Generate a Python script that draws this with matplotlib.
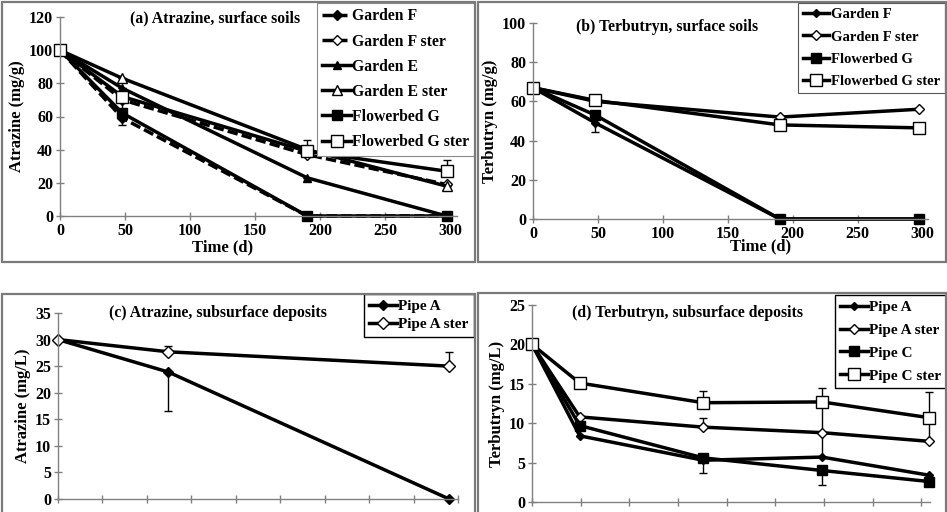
import matplotlib
matplotlib.use("Agg")
import matplotlib.pyplot as plt
from matplotlib.patches import Rectangle

plt.rcParams['font.family'] = ['Liberation Serif', 'DejaVu Serif']
plt.rcParams['font.weight'] = 'bold'

# -----------------------------
# DATA
# -----------------------------
# (a) Atrazine, surface soils
t_surf = [0, 48, 190, 297]
atr_names = ["Garden F", "Garden F ster", "Garden E", "Garden E ster",
             "Flowerbed G", "Flowerbed G ster"]
atr_vals = [
    [100, 59, 0, 0],
    [100, 70, 37, 19],
    [100, 77, 23, 0],
    [100, 83, 40, 18],
    [100, 62, 0, 0],
    [100, 72, 39, 27],
]
# error bars (lower, upper)
atr_lo = [
    [0, 4, 0, 0],
    [0, 0, 0, 0],
    [0, 0, 0, 0],
    [0, 0, 0, 0],
    [0, 0, 0, 0],
    [0, 10, 0, 0],
]
atr_hi = [
    [0, 0, 0, 0],
    [0, 0, 0, 0],
    [0, 0, 0, 0],
    [0, 0, 0, 0],
    [0, 0, 0, 0],
    [0, 0, 7, 6.5],
]

# (b) Terbutryn, surface soils
ter_names = ["Garden F", "Garden F ster", "Flowerbed G", "Flowerbed G ster"]
ter_vals = [
    [67, 49, 0, 0],
    [67, 60, 52, 56],
    [67, 53, 0, 0],
    [67, 60.5, 48, 46.5],
]
ter_lo = [
    [0, 4.5, 0, 0],
    [0, 0, 0, 0],
    [0, 0, 0, 0],
    [0, 0, 0, 0],
]
ter_hi = [
    [0, 0, 0, 0],
    [0, 0, 0, 0],
    [0, 0, 0, 0],
    [0, 0, 0, 0],
]

# (c) Atrazine, subsurface deposits
t_pipe_a = [0, 124, 440]
atr_pipe_names = ["Pipe A", "Pipe A ster"]
atr_pipe_vals = [
    [30, 23.9, 0],
    [30, 27.7, 25],
]
atr_pipe_lo = [
    [0, 7.3, 0],
    [0, 0, 0],
]
atr_pipe_hi = [
    [0, 0, 0],
    [0, 1.1, 2.7],
]

# (d) Terbutryn, subsurface deposits
t_pipe_d = [0, 49, 176, 298, 408]
ter_pipe_names = ["Pipe A", "Pipe A ster", "Pipe C", "Pipe C ster"]
ter_pipe_vals = [
    [20, 8.4, 5.3, 5.7, 3.4],
    [20, 10.8, 9.5, 8.8, 7.7],
    [20, 9.7, 5.6, 4.0, 2.6],
    [20, 15.1, 12.6, 12.7, 10.7],
]
ter_pipe_lo = [
    [0, 0, 0, 0, 0],
    [0, 0, 0, 0, 0],
    [0, 0, 1.9, 1.8, 0],
    [0, 0, 0, 0, 0],
]
ter_pipe_hi = [
    [0, 0, 0, 3.1, 0],
    [0, 0, 1.1, 3.9, 3.0],
    [0, 0, 0, 0, 0],
    [0, 0, 1.5, 1.8, 3.2],
]

# -----------------------------
# STYLES
# -----------------------------
W, H = 947, 512
FS_TICK = 11.5
FS_LAB = 12
FS_TITLE = 11.3

style_a = [
    dict(marker='D', mfc='black', ls=(0, (3, 1.2)), ms=5),
    dict(marker='D', mfc='white', ls=(0, (3, 1.2)), ms=5),
    dict(marker='^', mfc='black', ls='-', ms=6),
    dict(marker='^', mfc='white', ls='-', ms=7),
    dict(marker='s', mfc='black', ls='-', ms=7),
    dict(marker='s', mfc='white', ls='-', ms=8),
]
style_b = [
    dict(marker='D', mfc='black', ls='-', ms=4),
    dict(marker='D', mfc='white', ls='-', ms=5),
    dict(marker='s', mfc='black', ls='-', ms=7),
    dict(marker='s', mfc='white', ls='-', ms=8),
]
style_c = [
    dict(marker='D', mfc='black', ls='-', ms=5),
    dict(marker='D', mfc='white', ls='-', ms=6),
]
style_d = style_b


def px_axes(fig, left, right, top, bottom):
    return fig.add_axes([left / W, 1 - bottom / H, (right - left) / W, (bottom - top) / H])


def frame(fig, left, top, right, bottom):
    fig.patches.append(Rectangle((left / W, 1 - bottom / H), (right - left) / W,
                                 (bottom - top) / H, transform=fig.transFigure,
                                 fill=False, edgecolor='#7a7a7a', lw=1.6, zorder=0))


def setup(ax, xlim, ylim, yticks, xticks, xlabels=True):
    ax.set_xlim(*xlim)
    ax.set_ylim(*ylim)
    ax.set_yticks(yticks)
    ax.set_xticks(xticks)
    for s in ['top', 'right']:
        ax.spines[s].set_visible(False)
    for s in ['left', 'bottom']:
        ax.spines[s].set_color('#808080')
        ax.spines[s].set_linewidth(1.0)
    ax.tick_params(direction='inout', length=6, width=1.0, color='#808080',
                   labelsize=FS_TICK, pad=2)
    ax.patch.set_alpha(0)
    for lab in ax.get_xticklabels() + ax.get_yticklabels():
        lab.set_fontweight('bold')
    if not xlabels:
        ax.set_xticklabels([])


def draw(ax, t, vals, lo, hi, names, styles):
    for v, l, h, n, st in zip(vals, lo, hi, names, styles):
        ax.errorbar(t, v, yerr=[l, h], fmt='none', ecolor='black',
                    elinewidth=1.0, capsize=3, clip_on=False)
        ax.plot(t, v, color='black', lw=2.5, ls=st['ls'], marker=st['marker'],
                ms=st['ms'], mfc=st['mfc'], mec='black', mew=1.0, label=n,
                clip_on=False)


def legend(ax, x, y, fs, spacing, edge, lw):
    leg = ax.legend(loc='upper left', bbox_to_anchor=(x / W, 1 - y / H),
                    bbox_transform=fig.transFigure, fontsize=fs, handlelength=1.8,
                    handletextpad=0.1, labelspacing=spacing, borderpad=0.35,
                    fancybox=False, framealpha=1, edgecolor=edge, numpoints=1,
                    borderaxespad=0)
    leg.get_frame().set_linewidth(lw)
    for txt in leg.get_texts():
        txt.set_fontweight('bold')
    return leg


fig = plt.figure(figsize=(W / 100, H / 100), dpi=100)

# panel frames
frame(fig, 2, 2, 475, 262)
frame(fig, 478, 2, 946, 262)
frame(fig, 2, 294, 475, 530)
frame(fig, 478, 293, 946, 530)

# (a)
ax = px_axes(fig, 60, 457, 17, 216)
draw(ax, t_surf, atr_vals, atr_lo, atr_hi, atr_names, style_a)
setup(ax, (0, 305), (0, 120), range(0, 121, 20), range(0, 301, 50))
ax.set_ylabel("Atrazine (mg/g)", fontsize=FS_LAB, fontweight='bold', labelpad=3)
ax.set_xlabel("Time (d)", fontsize=FS_LAB, fontweight='bold')
ax.xaxis.set_label_coords(0.41, -0.12)
ax.text(0.39, 0.995, "(a) Atrazine, surface soils", transform=ax.transAxes,
        ha='center', va='center', fontsize=FS_TITLE, fontweight='bold')
legend(ax, 317, 3, 11.3, 0.58, '#8a8a8a', 0.8)

# (b)
ax = px_axes(fig, 533, 928, 23, 219)
draw(ax, t_surf, ter_vals, ter_lo, ter_hi, ter_names, style_b)
setup(ax, (0, 304), (0, 100), range(0, 101, 20), range(0, 301, 50))
ax.set_ylabel("Terbutryn (mg/g)", fontsize=FS_LAB, fontweight='bold', labelpad=3)
ax.set_xlabel("Time (d)", fontsize=FS_LAB, fontweight='bold')
ax.xaxis.set_label_coords(0.575, -0.1)
ax.text(0.34, 0.98, "(b) Terbutryn, surface soils", transform=ax.transAxes,
        ha='center', va='center', fontsize=FS_TITLE, fontweight='bold')
legend(ax, 798, 3, 10.5, 0.62, '#555555', 0.8)

# (c)
ax = px_axes(fig, 58, 458, 313, 499)
draw(ax, t_pipe_a, atr_pipe_vals, atr_pipe_lo, atr_pipe_hi, atr_pipe_names, style_c)
setup(ax, (0, 450), (0, 35), range(0, 36, 5), range(0, 451, 50), xlabels=False)
ax.set_ylabel("Atrazine (mg/L)", fontsize=FS_LAB, fontweight='bold', labelpad=3)
ax.text(0.4, 1.0, "(c) Atrazine, subsurface deposits", transform=ax.transAxes,
        ha='center', va='center', fontsize=FS_TITLE, fontweight='bold')
legend(ax, 364, 294, 11, 0.3, 'black', 1.0)

# (d)
ax = px_axes(fig, 532, 930, 305, 502)
draw(ax, t_pipe_d, ter_pipe_vals, ter_pipe_lo, ter_pipe_hi, ter_pipe_names, style_d)
setup(ax, (0, 409), (0, 25), range(0, 26, 5), range(0, 401, 50), xlabels=False)
ax.set_ylabel("Terbutryn (mg/L)", fontsize=FS_LAB, fontweight='bold', labelpad=3)
ax.text(0.39, 0.96, "(d) Terbutryn, subsurface deposits", transform=ax.transAxes,
        ha='center', va='center', fontsize=FS_TITLE, fontweight='bold')
legend(ax, 835, 295, 11, 0.6, 'black', 1.0)

fig.savefig("out.png", dpi=100)
